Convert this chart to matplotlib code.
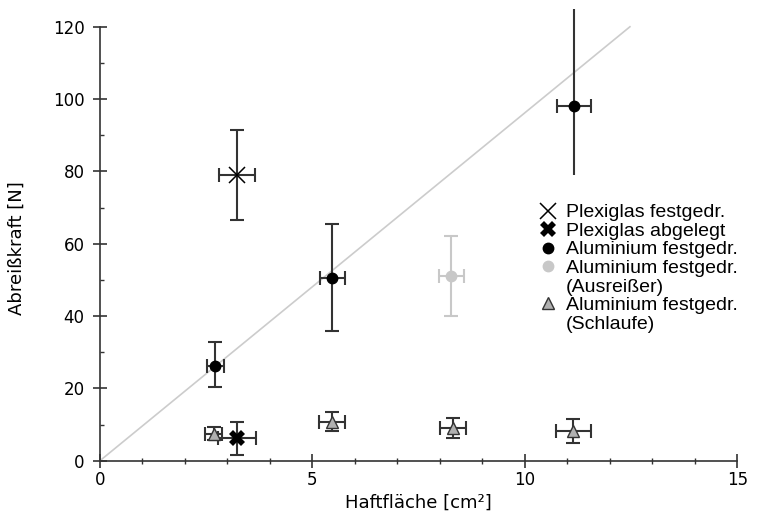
import matplotlib
matplotlib.use("Agg")
import matplotlib.pyplot as plt
from matplotlib.lines import Line2D
from matplotlib.ticker import MultipleLocator

# Plexiglas, pressed on
plexi_fest_x = [3.23]
plexi_fest_y = [79.0]
plexi_fest_xerr = [0.42]
plexi_fest_yerr = [12.5]

# Plexiglas, laid down
plexi_abg_x = [3.23]
plexi_abg_y = [6.2]
plexi_abg_xerr = [0.45]
plexi_abg_yerr = [4.6]

# Aluminium, pressed on
alu_x = [2.71, 5.47, 11.15]
alu_y = [26.3, 50.6, 98.1]
alu_xerr = [0.2, 0.3, 0.4]
alu_yerr_lo = [5.8, 14.6, 19.0]
alu_yerr_hi = [6.5, 14.8, 30.0]

# Aluminium, outlier
outl_x = [8.27]
outl_y = [51.0]
outl_xerr = [0.3]
outl_yerr = [11.0]

# Aluminium with loop
loop_x = [2.68, 5.46, 8.30, 11.14]
loop_y = [7.5, 10.8, 9.0, 8.2]
loop_xerr = [0.2, 0.3, 0.31, 0.42]
loop_yerr = [1.8, 2.7, 2.7, 3.3]

# guide line
fit_x = [0.0, 12.47]
fit_y = [0.0, 120.0]

dark = "#333333"
light = "#c8c8c8"

fig = plt.figure(figsize=(7.65, 5.16), dpi=100)
ax = fig.add_axes([0.1307, 0.1072, 0.8333, 0.876])

ax.plot(fit_x, fit_y, color="#cccccc", lw=1.2, zorder=1)

eb = dict(fmt="none", ecolor=dark, elinewidth=1.5, capsize=5, capthick=1.5, zorder=2)

ax.errorbar(plexi_fest_x, plexi_fest_y, xerr=plexi_fest_xerr, yerr=plexi_fest_yerr, **eb)
ax.plot(plexi_fest_x, plexi_fest_y, ls="none", marker="x", ms=11, mew=1.1, color="black", zorder=3)

ax.errorbar(plexi_abg_x, plexi_abg_y, xerr=plexi_abg_xerr, yerr=plexi_abg_yerr, **eb)
ax.plot(plexi_abg_x, plexi_abg_y, ls="none", marker="X", ms=11, mew=0, color="black", zorder=3)

# first two with caps; the last one's vertical bar runs off the top
ax.errorbar(alu_x[:2], alu_y[:2], xerr=alu_xerr[:2],
            yerr=[alu_yerr_lo[:2], alu_yerr_hi[:2]], **eb)
ax.errorbar(alu_x[2:], alu_y[2:], xerr=alu_xerr[2:], **eb)
ax.errorbar(alu_x[2:], alu_y[2:], yerr=[alu_yerr_lo[2:], alu_yerr_hi[2:]],
            fmt="none", ecolor=dark, elinewidth=1.5, capsize=0, zorder=2)
ax.plot(alu_x, alu_y, ls="none", marker="o", ms=7.5, color="black", zorder=3)

ax.errorbar(outl_x, outl_y, xerr=outl_xerr, yerr=outl_yerr, fmt="none", ecolor=light,
            elinewidth=1.5, capsize=5, capthick=1.5, zorder=2)
ax.plot(outl_x, outl_y, ls="none", marker="o", ms=7.5, color=light, zorder=3)

ax.errorbar(loop_x, loop_y, xerr=loop_xerr, yerr=loop_yerr, **eb)
ax.plot(loop_x, loop_y, ls="none", marker="^", ms=9, mfc="#b0b0b0", mec=dark, mew=1,
        zorder=3)

ax.set_xlim(0, 15)
ax.set_ylim(0, 125)
for s in ["top", "right"]:
    ax.spines[s].set_visible(False)
ax.spines["left"].set_bounds(0, 120)
for s in ["left", "bottom"]:
    ax.spines[s].set_color(dark)
    ax.spines[s].set_linewidth(1.2)

ax.xaxis.set_major_locator(MultipleLocator(5))
ax.xaxis.set_minor_locator(MultipleLocator(1))
ax.yaxis.set_minor_locator(MultipleLocator(10))
ax.set_yticks([0, 20, 40, 60, 80, 100, 120])
ax.tick_params(which="major", direction="inout", length=10, width=1.2, color=dark,
               labelsize=12, labelcolor="black")
ax.tick_params(axis="x", which="major", pad=2.5)
ax.tick_params(axis="y", which="major", pad=6)
ax.tick_params(axis="x", which="minor", direction="inout", length=5, width=1, color=dark)
ax.tick_params(axis="y", which="minor", direction="in", length=3, width=1, color=dark)

ax.set_xlabel("Haftfläche [cm²]", fontsize=13, labelpad=3)
ax.set_ylabel("Abreißkraft [N]", fontsize=13)
ax.yaxis.set_label_coords(-0.117, 0.47)

# continuation lines of the two-line labels get an empty handle
blank = Line2D([], [], ls="none", marker="none")
handles = [
    Line2D([], [], ls="none", marker="x", ms=11, mew=1.1, color="black"),
    Line2D([], [], ls="none", marker="X", ms=11, mew=0, color="black"),
    Line2D([], [], ls="none", marker="o", ms=7.5, color="black"),
    Line2D([], [], ls="none", marker="o", ms=7.5, color=light),
    blank,
    Line2D([], [], ls="none", marker="^", ms=9, mfc="#b0b0b0", mec=dark, mew=1),
    blank,
]
labels = [
    "Plexiglas festgedr.",
    "Plexiglas abgelegt",
    "Aluminium festgedr.",
    "Aluminium festgedr.",
    "(Ausreißer)",
    "Aluminium festgedr.",
    "(Schlaufe)",
]
ax.legend(handles, labels, loc="upper left", bbox_to_anchor=(0.673, 0.59),
          frameon=False, handlelength=1.0, handletextpad=0.4, labelspacing=0.05,
          borderpad=0, prop={"family": "Liberation Sans", "size": 14})

fig.savefig("out.png", dpi=100)
